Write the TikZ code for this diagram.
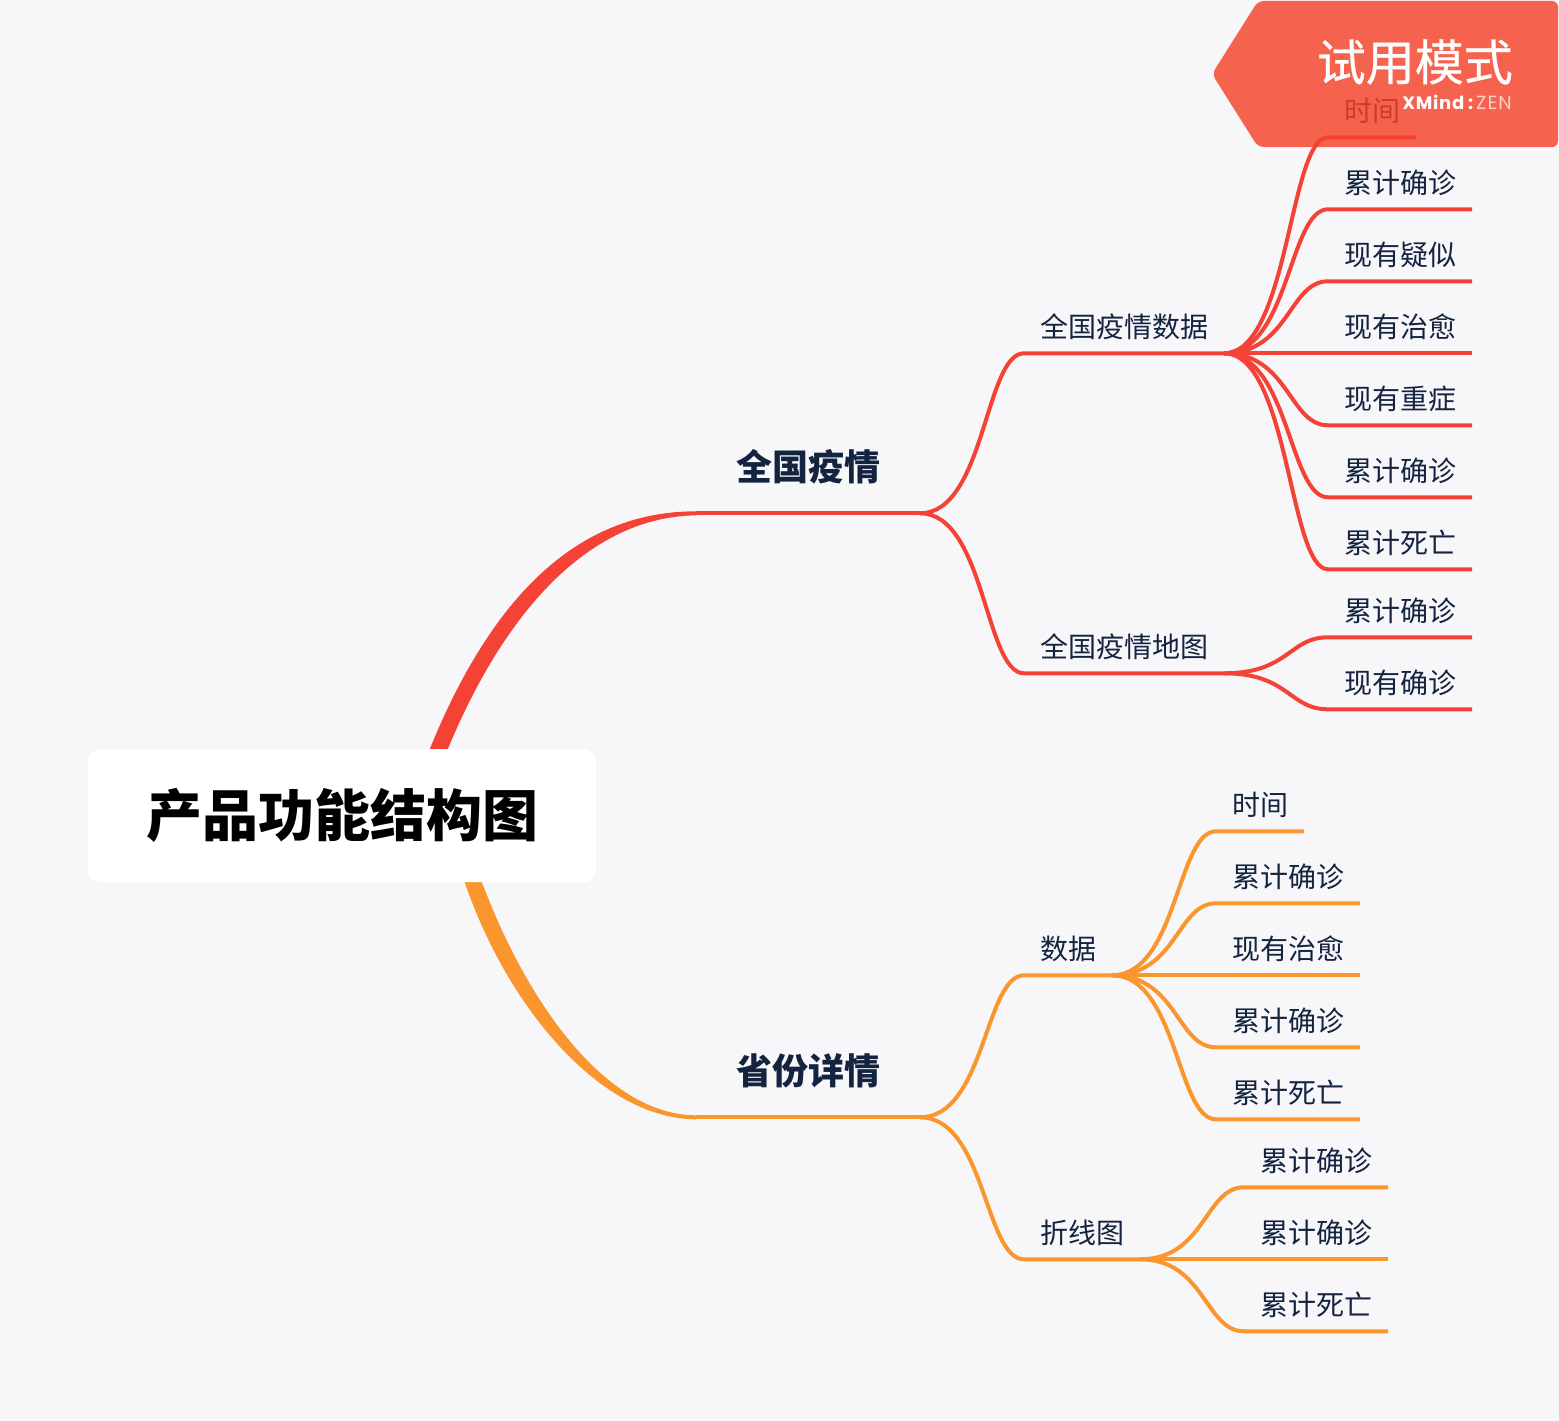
\documentclass[tikz,border=0pt]{standalone}
\usepackage{fontspec}
\setmainfont{Noto Sans CJK SC}
\newfontfamily\logofont{Poppins}
\usetikzlibrary{calc,backgrounds}
\definecolor{pageF}{HTML}{F7F7FA}
\definecolor{inkT}{HTML}{14233F}
\definecolor{redB}{HTML}{F44336}
\definecolor{orgB}{HTML}{FA962D}
\definecolor{markF}{HTML}{F54229}
\tikzset{
 rootbox/.style={fill=white, rounded corners=12pt, minimum width=508pt, minimum height=133pt,
                 font=\fontsize{56}{60}\selectfont\bfseries, text=black, inner sep=0pt, outer sep=0pt},
 topic/.style={anchor=south west, inner xsep=40pt, inner ysep=0pt, outer sep=0pt, text height=36pt, text depth=33pt,
               font=\fontsize{36}{40}\selectfont\bfseries, text=inkT},
 sub/.style={anchor=south west, inner xsep=16pt, inner ysep=0pt, outer sep=0pt, text height=32pt, text depth=16pt,
             font=\fontsize{28}{32}\selectfont, text=inkT},
 link/.style={to path={.. controls ($(\tikztostart)!0.625!(\tikztotarget |- \tikztostart)$) and ($(\tikztotarget)!0.375!(\tikztostart |- \tikztotarget)$) .. (\tikztotarget) \tikztonodes}},
 redln/.style={line width=4pt, draw=redB, line join=round},
 orgln/.style={line width=4pt, draw=orgB, line join=round},
}
\begin{document}
\begin{tikzpicture}[x=1pt,y=-1pt]
\useasboundingbox (0,0) rectangle (1559,1421);
% root
\node[rootbox] (root) at (342,815.5) {产品功能结构图};
% national branch
\node[topic] (natl) at (696,513.3) {全国疫情};
\node[sub] (natldata) at (1024,353.3) {全国疫情数据};
\node[sub] (natlmap) at (1024,673.3) {全国疫情地图};
\node[sub] (nd1) at (1328,137.3) {时间};
\node[sub] (nd2) at (1328,209.3) {累计确诊};
\node[sub] (nd3) at (1328,281.3) {现有疑似};
\node[sub] (nd4) at (1328,353.3) {现有治愈};
\node[sub] (nd5) at (1328,425.3) {现有重症};
\node[sub] (nd6) at (1328,497.3) {累计确诊};
\node[sub] (nd7) at (1328,569.3) {累计死亡};
\node[sub] (nm1) at (1328,637.3) {累计确诊};
\node[sub] (nm2) at (1328,709.3) {现有确诊};
% province branch
\node[topic] (prov) at (696,1117.3) {省份详情};
\node[sub] (provdata) at (1024,975.3) {数据};
\node[sub] (provline) at (1024,1259.3) {折线图};
\node[sub] (pd1) at (1216,831.3) {时间};
\node[sub] (pd2) at (1216,903.3) {累计确诊};
\node[sub] (pd3) at (1216,975.3) {现有治愈};
\node[sub] (pd4) at (1216,1047.3) {累计确诊};
\node[sub] (pd5) at (1216,1119.3) {累计死亡};
\node[sub] (pl1) at (1244,1187.3) {累计确诊};
\node[sub] (pl2) at (1244,1259.3) {累计确诊};
\node[sub] (pl3) at (1244,1331.3) {累计死亡};
% connectors
\begin{pgfonlayer}{background}
\fill[pageF] (0,0) rectangle (1559,1421);
\fill[redB] ($(root.north)+(87,2)$) .. controls (490,600) and (575,511.3) .. ($(natl.south west)+(0,-2)$)
 -- ($(natl.south west)+(0,2)$) .. controls (590,517) and (505,610) .. ($(root.north)+(105,2)$) -- cycle;
\fill[orgB] ($(root.south)+(121,-5)$) .. controls (505,1005) and (600,1119) .. ($(prov.south west)+(0,2)$)
 -- ($(prov.south west)+(0,-2)$) .. controls (605,1115) and (525,1000) .. ($(root.south)+(138,-5)$) -- cycle;
\end{pgfonlayer}
\draw[redln] (natl.south west) -- (natl.south east);
\draw[orgln] (prov.south west) -- (prov.south east);
\draw[redln,link] (natl.south east) to (natldata.south west) -- (natldata.south east);
\draw[redln,link] (natl.south east) to (natlmap.south west) -- (natlmap.south east);
\draw[redln,link] (natldata.south east) to (nd1.south west) -- (nd1.south east);
\draw[redln,link] (natldata.south east) to (nd2.south west) -- (nd2.south east);
\draw[redln,link] (natldata.south east) to (nd3.south west) -- (nd3.south east);
\draw[redln] (natldata.south east) -- (nd4.south east);
\draw[redln,link] (natldata.south east) to (nd5.south west) -- (nd5.south east);
\draw[redln,link] (natldata.south east) to (nd6.south west) -- (nd6.south east);
\draw[redln,link] (natldata.south east) to (nd7.south west) -- (nd7.south east);
\draw[redln,link] (natlmap.south east) to (nm1.south west) -- (nm1.south east);
\draw[redln,link] (natlmap.south east) to (nm2.south west) -- (nm2.south east);
\draw[orgln,link] (prov.south east) to (provdata.south west) -- (provdata.south east);
\draw[orgln,link] (prov.south east) to (provline.south west) -- (provline.south east);
\draw[orgln,link] (provdata.south east) to (pd1.south west) -- (pd1.south east);
\draw[orgln,link] (provdata.south east) to (pd2.south west) -- (pd2.south east);
\draw[orgln] (provdata.south east) -- (pd3.south east);
\draw[orgln,link] (provdata.south east) to (pd4.south west) -- (pd4.south east);
\draw[orgln,link] (provdata.south east) to (pd5.south west) -- (pd5.south east);
\draw[orgln,link] (provline.south east) to (pl1.south west) -- (pl1.south east);
\draw[orgln] (provline.south east) -- (pl2.south east);
\draw[orgln,link] (provline.south east) to (pl3.south west) -- (pl3.south east);
% trial badge
\fill[markF, fill opacity=0.82, rounded corners=6pt] (1258,1) -- (1558,1) -- (1558,147) -- (1258,147) -- (1212,74) -- cycle;
\node[text=white, font=\fontsize{49}{52}\selectfont\addfontfeatures{FakeBold=0.4}, anchor=east, inner sep=0pt] (marktitle) at (1513,62) {试用模式};
\node[text=white, font=\logofont\fontsize{18}{20}\selectfont, anchor=east, inner sep=0pt] (marklogo) at (1512,102)
 {{\addfontfeatures{LetterSpace=4}\textbf{XMind}}\,\textbf{:}\,{\fontsize{19}{20}\selectfont\addfontfeatures{LetterSpace=6}\textcolor{white!75!markF}{ZEN}}};
\end{tikzpicture}
\end{document}
